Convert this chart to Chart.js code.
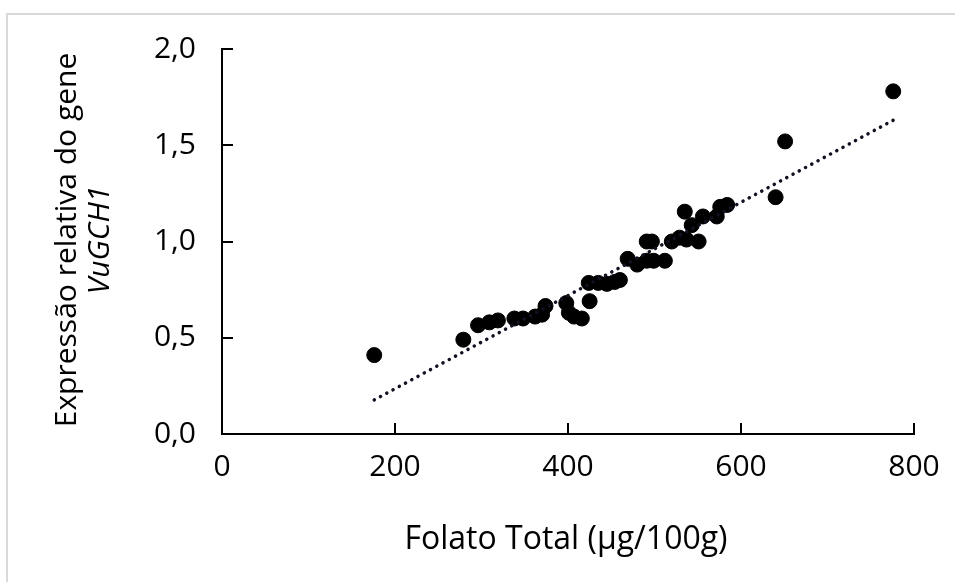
<!DOCTYPE html>
<html>
<head>
<meta charset="utf-8">
<script src="https://cdn.jsdelivr.net/npm/chart.js@4"></script>
<style>
  html, body { margin: 0; padding: 0; background: #fff; }
  #wrap { width: 955px; height: 582px; }
</style>
</head>
<body>
<div id="wrap"><canvas id="folatoChart"></canvas></div>
<script>
// folato total (µg/100g) vs expressao relativa do gene VuGCH1
const folato = [176, 279, 296, 309, 319, 338, 348, 362, 370, 374, 398, 401, 407, 416, 425,
  424, 435, 445, 454, 460, 469, 480, 491, 497, 491, 499, 512, 520, 529, 535, 537, 543,
  551, 556, 572, 576, 584, 640, 651, 776];
const expressao = [0.41, 0.49, 0.565, 0.58, 0.59, 0.60, 0.60, 0.61, 0.62, 0.665, 0.68, 0.63, 0.61, 0.60, 0.69,
  0.785, 0.785, 0.78, 0.79, 0.80, 0.91, 0.88, 1.00, 1.00, 0.90, 0.90, 0.90, 1.00, 1.02, 1.155, 1.01, 1.085,
  1.00, 1.13, 1.13, 1.18, 1.19, 1.23, 1.52, 1.78];

// linear trendline ends
const trendX = [176, 776];
const trendY = [0.177, 1.63];

const xTicks = [0, 200, 400, 600, 800];
const yTicks = [0, 0.5, 1.0, 1.5, 2.0];

const FONT = '"Open Sans", "Noto Sans", sans-serif';

const points = folato.map((x, i) => ({ x: x, y: expressao[i] }));
const trend = trendX.map((x, i) => ({ x: x, y: trendY[i] }));

// frame, inner tick marks and axis titles
const extras = {
  id: 'extras',
  beforeDraw(chart) {
    const ctx = chart.ctx;
    ctx.save();
    ctx.strokeStyle = '#d9d9d9';
    ctx.lineWidth = 2;
    ctx.beginPath();
    ctx.moveTo(6, 14); ctx.lineTo(955, 14);
    ctx.moveTo(7, 13); ctx.lineTo(7, 582);
    ctx.stroke();
    ctx.restore();
  },
  afterDraw(chart) {
    const ctx = chart.ctx;
    const xs = chart.scales.x, ys = chart.scales.y;
    const area = chart.chartArea;
    ctx.save();
    ctx.strokeStyle = '#000';
    ctx.lineWidth = 2;
    ctx.beginPath();
    xTicks.forEach(v => {
      const px = Math.round(xs.getPixelForValue(v));
      ctx.moveTo(px, area.bottom); ctx.lineTo(px, area.bottom - 11);
    });
    yTicks.forEach(v => {
      const py = Math.round(ys.getPixelForValue(v));
      ctx.moveTo(area.left, py); ctx.lineTo(area.left + 11, py);
    });
    ctx.stroke();

    ctx.fillStyle = '#000';
    ctx.textAlign = 'center';
    ctx.textBaseline = 'middle';
    ctx.font = '32px ' + FONT;
    ctx.fillText('Folato Total (µg/100g)', 566, 540);

    ctx.translate(67, 240);
    ctx.rotate(-Math.PI / 2);
    ctx.font = '30px ' + FONT;
    ctx.fillText('Expressão relativa do gene', 0, 0);
    ctx.font = 'italic 30px ' + FONT;
    ctx.fillText('VuGCH1', 0, 33);
    ctx.restore();
  }
};

new Chart(document.getElementById('folatoChart'), {
  type: 'scatter',
  data: {
    datasets: [
      {
        type: 'line',
        label: 'Linear',
        data: trend,
        borderColor: '#111122',
        borderWidth: 3.5,
        borderDash: [0.1, 7],
        borderCapStyle: 'round',
        pointRadius: 0,
        fill: false
      },
      {
        label: 'Expressão',
        data: points,
        backgroundColor: '#000',
        borderColor: '#000',
        pointRadius: 7.5,
        pointHoverRadius: 7.5
      }
    ]
  },
  options: {
    responsive: true,
    maintainAspectRatio: false,
    animation: false,
    layout: { padding: { left: 0, top: 49, right: 41, bottom: 0 } },
    plugins: {
      legend: { display: false },
      tooltip: { enabled: false }
    },
    scales: {
      x: {
        type: 'linear',
        min: 0,
        max: 800,
        afterBuildTicks: s => { s.ticks = xTicks.map(v => ({ value: v })); },
        afterFit: s => { s.height = 148; },
        grid: { display: true, drawOnChartArea: false, drawTicks: false },
        border: { color: '#000', width: 2 },
        ticks: { color: '#000', padding: 15, font: { family: FONT, size: 30 } }
      },
      y: {
        min: 0,
        max: 2,
        afterBuildTicks: s => { s.ticks = yTicks.map(v => ({ value: v })); },
        afterFit: s => { s.width = 222; },
        grid: { display: true, drawOnChartArea: false, drawTicks: false },
        border: { color: '#000', width: 2 },
        ticks: {
          color: '#000',
          padding: 26,
          font: { family: FONT, size: 30 },
          callback: v => v.toFixed(1).replace('.', ',')
        }
      }
    }
  },
  plugins: [extras]
});
</script>
</body>
</html>
